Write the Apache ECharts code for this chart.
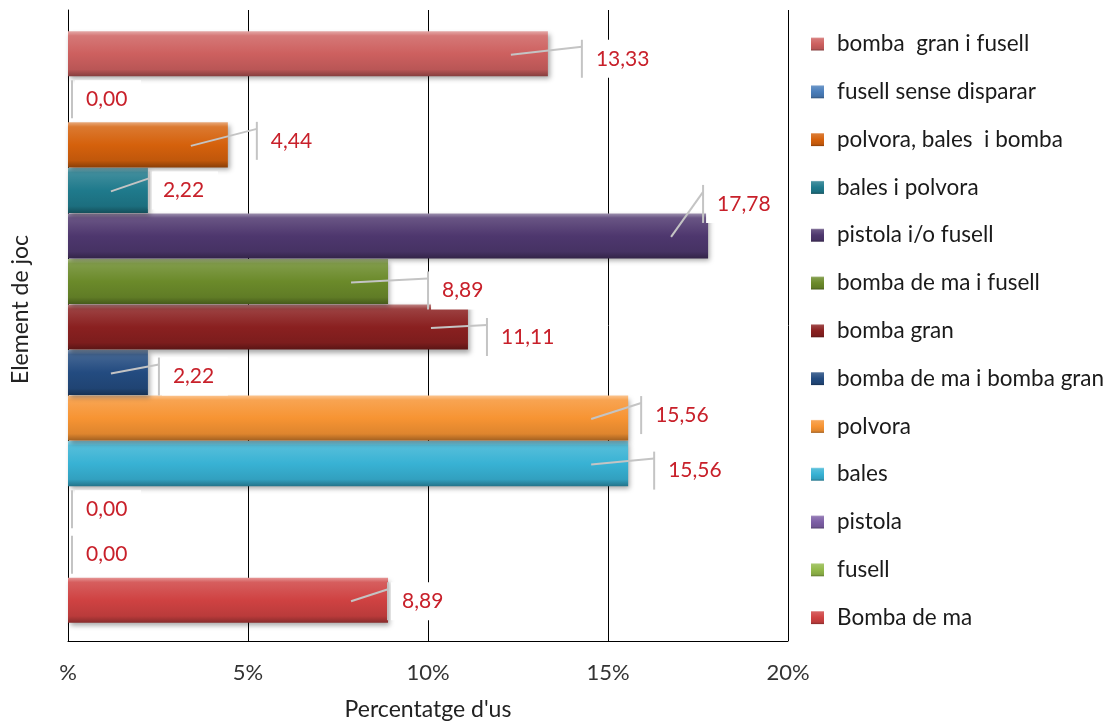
<!DOCTYPE html>
<html>
<head>
<meta charset="utf-8">
<script src="https://cdn.jsdelivr.net/npm/echarts/dist/echarts.min.js"></script>
<style>
html,body{margin:0;padding:0;background:#fff;}
#main{width:1111px;height:726px;}
</style>
</head>
<body>
<div id="main"></div>
<script>
// categories from bottom to top (Excel order)
var categories = ['Bomba de ma', 'fusell', 'pistola', 'bales', 'polvora',
	'bomba de ma i bomba gran', 'bomba gran', 'bomba de ma i fusell',
	'pistola i/o fusell', 'bales i polvora', 'polvora, bales  i bomba',
	'fusell sense disparar', 'bomba  gran i fusell'];
var values = [8.89, 0, 0, 15.56, 15.56, 2.22, 11.11, 8.89, 17.78, 2.22, 4.44, 0, 13.33];
var barColors = ['#cf4242', '#93b94a', '#7d5fa6', '#38b2d4', '#f79433',
	'#234b80', '#8a2020', '#6b8a2a', '#4e376e', '#1f7a8c', '#d5610c',
	'#4a7ebb', '#cd605f'];
var xTicks = [0, 5, 10, 15, 20];
// label box nudge from bar end (px), same order as categories
var labelNudgeX = [0, 4, 4, 26, 13, 11, 19, 40, -5, 1, 29, 4, 34];
var labelNudgeY = [1, 0, 0, 7, -3, 4, 10, 9, -32, 0, -4, 0, 5];

var FONT = 'Lato, "Open Sans", sans-serif';

function shade(hex, amt) {
	var r = parseInt(hex.substr(1, 2), 16), g = parseInt(hex.substr(3, 2), 16), b = parseInt(hex.substr(5, 2), 16);
	function f(c) {
		return Math.round(amt >= 0 ? c + (255 - c) * amt : c * (1 + amt));
	}
	return 'rgb(' + f(r) + ',' + f(g) + ',' + f(b) + ')';
}
function bevel(hex) {
	return new echarts.graphic.LinearGradient(0, 0, 0, 1, [
		{offset: 0, color: shade(hex, 0.45)},
		{offset: 0.1, color: shade(hex, 0.15)},
		{offset: 0.5, color: hex},
		{offset: 0.85, color: shade(hex, -0.1)},
		{offset: 1, color: shade(hex, -0.35)}
	]);
}
function fmt(v) {
	return v.toFixed(2).replace('.', ',');
}

var series = [];
for (var i = 0; i < categories.length; i++) {
	var d = [];
	for (var j = 0; j < categories.length; j++) {
		d.push(j === i ? values[i] : '-');
	}
	series.push({
		name: categories[i],
		type: 'bar',
		xAxisIndex: 1,
		yAxisIndex: 1,
		barGap: '-100%',
		barWidth: '99%',
		data: d,
		itemStyle: {
			color: bevel(barColors[i]),
			shadowColor: 'rgba(0,0,0,0.35)',
			shadowBlur: 5,
			shadowOffsetX: 2,
			shadowOffsetY: 3
		}
	});
}

var labelData = [];
for (var k = 0; k < values.length; k++) {
	labelData.push([values[k], k]);
}
series.push({
	type: 'custom',
	xAxisIndex: 1,
	yAxisIndex: 1,
	z: 10,
	silent: true,
	clip: false,
	data: labelData,
	renderItem: function(params, api) {
		var v = api.value(0), c = api.value(1);
		var p = api.coord([v, c]);
		var bx = p[0] + labelNudgeX[c];
		var by = p[1] + labelNudgeY[c];
		var top = by - 19;
		var txt = fmt(v);
		var kids = [
			{type: 'rect', shape: {x: bx + 3, y: top, width: 14 + txt.length * 11 + 8, height: 38}, style: {fill: '#fff'}},
			{type: 'line', shape: {x1: bx, y1: top, x2: bx, y2: top + 38}, style: {stroke: '#c4c4c4', lineWidth: 2}}
		];
		if (v > 0) {
			kids.push({type: 'line', shape: {x1: p[0] - 37, y1: p[1] + 1, x2: bx, y2: top + 7}, style: {stroke: '#c4c4c4', lineWidth: 2}});
		}
		kids.push({type: 'text', style: {x: bx + 14, y: by, text: txt, fill: '#c8202a', font: '21px ' + FONT, verticalAlign: 'middle', align: 'left'}});
		return {type: 'group', children: kids};
	}
});

var myChart = echarts.init(document.getElementById('main'));
var option = {
	animation: false,
	backgroundColor: '#fff',
	legend: {
		orient: 'vertical',
		left: 806,
		top: 27,
		itemWidth: 13,
		itemHeight: 13,
		itemGap: 23.8,
		icon: 'rect',
		data: categories.slice().reverse(),
		textStyle: {fontFamily: FONT, fontSize: 22.5, color: '#1a1a1a', lineHeight: 24, padding: [0, 0, 0, 8]}
	},
	grid: [
		{left: 68, right: 323, top: 10, bottom: 81},
		{left: 68, right: 323, top: 31, height: 592}
	],
	xAxis: [{
		gridIndex: 0,
		type: 'value',
		min: 0,
		max: 20,
		interval: 5,
		axisLine: {show: true, lineStyle: {color: '#000', width: 1}},
		axisTick: {show: false},
		splitLine: {show: true, lineStyle: {color: '#000', width: 1}},
		axisLabel: {
			margin: 21,
			fontFamily: FONT,
			fontSize: 22,
			color: '#333',
			formatter: function(v) {
				return xTicks.indexOf(v) === 0 ? '%' : v + '%';
			}
		},
		name: "Percentatge d'us",
		nameLocation: 'middle',
		nameGap: 57,
		nameTextStyle: {fontFamily: FONT, fontSize: 23, color: '#222'}
	}, {
		gridIndex: 1,
		type: 'value',
		min: 0,
		max: 20,
		show: false
	}],
	yAxis: [{
		gridIndex: 0,
		type: 'value',
		min: 0,
		max: 1,
		axisLine: {show: true, lineStyle: {color: '#000', width: 1}},
		axisTick: {show: false},
		axisLabel: {show: false},
		splitLine: {show: false},
		name: 'Element de joc',
		nameLocation: 'middle',
		nameRotate: 90,
		nameGap: 36,
		nameTextStyle: {fontFamily: FONT, fontSize: 23, color: '#222', padding: [0, 0, 0, 32]}
	}, {
		gridIndex: 1,
		type: 'category',
		data: categories,
		show: false
	}],
	series: series
};
myChart.setOption(option);
</script>
</body>
</html>
